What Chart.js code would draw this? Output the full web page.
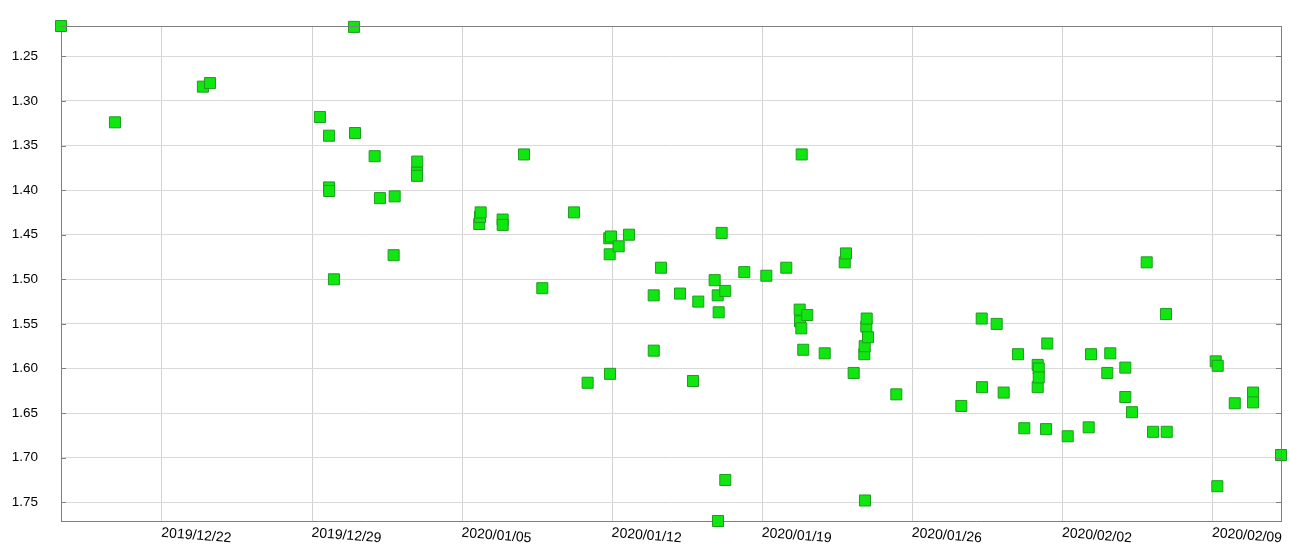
<!DOCTYPE html>
<html>
<head>
<meta charset="utf-8">
<script src="https://cdn.jsdelivr.net/npm/chart.js@4.4.1/dist/chart.umd.min.js"></script>
<style>
  body { margin: 0; background: #fff; }
  #wrap { width: 1293px; height: 552px; }
</style>
</head>
<body>
<div id="wrap"><canvas id="scatterChart" width="1293" height="552"></canvas></div>
<script>
const times = [
  '2019/12/17 07:00', '2019/12/19 19:24', '2019/12/23 21:50', '2019/12/24 05:45',
  '2019/12/29 08:50', '2019/12/29 19:00', '2019/12/29 19:00', '2019/12/29 19:10',
  '2019/12/30 00:30', '2019/12/30 22:55', '2019/12/31 00:05', '2019/12/31 22:05',
  '2020/01/01 04:00', '2020/01/01 19:20', '2020/01/01 20:30', '2020/01/02 21:25',
  '2020/01/02 21:30', '2020/01/02 21:45', '2020/01/05 19:10', '2020/01/05 20:00',
  '2020/01/05 20:45', '2020/01/06 21:20', '2020/01/06 21:25', '2020/01/07 21:15',
  '2020/01/08 17:45', '2020/01/10 05:10', '2020/01/10 20:30', '2020/01/11 20:40',
  '2020/01/11 21:10', '2020/01/11 21:30', '2020/01/11 22:35', '2020/01/12 07:15',
  '2020/01/12 18:45', '2020/01/13 22:25', '2020/01/13 22:30', '2020/01/14 06:35',
  '2020/01/15 03:50', '2020/01/15 18:25', '2020/01/16 00:20', '2020/01/16 18:40',
  '2020/01/16 22:05', '2020/01/16 22:25', '2020/01/16 23:10', '2020/01/17 02:30',
  '2020/01/17 06:30', '2020/01/17 06:35', '2020/01/18 03:50', '2020/01/19 04:30',
  '2020/01/20 02:50', '2020/01/20 17:50', '2020/01/20 18:10', '2020/01/20 19:40',
  '2020/01/20 20:05', '2020/01/20 21:50', '2020/01/21 02:20', '2020/01/21 21:50',
  '2020/01/22 20:15', '2020/01/22 21:40', '2020/01/23 06:15', '2020/01/23 18:10',
  '2020/01/23 18:35', '2020/01/23 18:55', '2020/01/23 20:25', '2020/01/23 20:50',
  '2020/01/23 22:20', '2020/01/25 06:00', '2020/01/28 06:45', '2020/01/29 05:35',
  '2020/01/29 05:55', '2020/01/29 22:20', '2020/01/30 06:10', '2020/01/30 22:10',
  '2020/01/31 05:15', '2020/01/31 20:15', '2020/01/31 20:15', '2020/01/31 21:25',
  '2020/01/31 21:25', '2020/02/01 05:35', '2020/02/01 07:00', '2020/02/02 05:50',
  '2020/02/03 05:20', '2020/02/03 07:55', '2020/02/04 02:10', '2020/02/04 05:30',
  '2020/02/04 22:20', '2020/02/04 22:20', '2020/02/05 05:50', '2020/02/05 22:15',
  '2020/02/06 05:20', '2020/02/06 19:50', '2020/02/06 20:40', '2020/02/09 03:30',
  '2020/02/09 05:20', '2020/02/09 05:45', '2020/02/10 00:50', '2020/02/10 21:15',
  '2020/02/10 21:15', '2020/02/12 04:35'
];

const values = [
  1.216, 1.324, 1.284, 1.280,
  1.318, 1.339, 1.397, 1.401,
  1.500, 1.217, 1.336, 1.362,
  1.409, 1.473, 1.407, 1.380,
  1.384, 1.368, 1.438, 1.430,
  1.425, 1.433, 1.439, 1.360,
  1.510, 1.425, 1.616, 1.454,
  1.472, 1.606, 1.452, 1.463,
  1.450, 1.518, 1.580, 1.487,
  1.516, 1.614, 1.525, 1.501,
  1.518, 1.771, 1.537, 1.448,
  1.513, 1.725, 1.492, 1.496,
  1.487, 1.534, 1.547, 1.555,
  1.360, 1.579, 1.540, 1.583,
  1.481, 1.471, 1.605, 1.584,
  1.575, 1.748, 1.553, 1.544,
  1.565, 1.629, 1.642, 1.544,
  1.621, 1.550, 1.627, 1.584,
  1.667, 1.596, 1.621, 1.600,
  1.610, 1.668, 1.572, 1.676,
  1.666, 1.584, 1.605, 1.583,
  1.599, 1.632, 1.649, 1.481,
  1.671, 1.539, 1.671, 1.592,
  1.732, 1.597, 1.639, 1.627,
  1.638, 1.697
];

const xTickLabels = ['2019/12/22', '2019/12/29', '2020/01/05', '2020/01/12',
                     '2020/01/19', '2020/01/26', '2020/02/02', '2020/02/09'];
const yTicks = [1.25, 1.30, 1.35, 1.40, 1.45, 1.50, 1.55, 1.60, 1.65, 1.70, 1.75];

// date string -> ms (UTC so the sandbox timezone does not matter)
function toMs(s) {
  const [d, t = '00:00'] = s.split(' ');
  const [Y, M, D] = d.split('/').map(Number);
  const [h, m] = t.split(':').map(Number);
  return Date.UTC(Y, M - 1, D, h, m);
}

const xs = times.map(toMs);
const points = xs.map((x, i) => ({ x: x, y: values[i] }));

const FONT = "'Liberation Sans', Arial, sans-serif";
const AXIS = '#7f7f7f';

// frame on top/right, small inner ticks, slanted date labels
const framePlugin = {
  id: 'frame',
  afterDraw(chart) {
    const { ctx, chartArea: a, scales } = chart;
    ctx.save();
    ctx.strokeStyle = AXIS;
    ctx.lineWidth = 1;
    ctx.beginPath();
    ctx.moveTo(a.left, Math.round(a.top) + 0.5);
    ctx.lineTo(a.right, Math.round(a.top) + 0.5);
    ctx.moveTo(Math.round(a.right) + 0.5, a.top);
    ctx.lineTo(Math.round(a.right) + 0.5, a.bottom);
    scales.y.ticks.forEach(t => {
      const py = Math.round(scales.y.getPixelForValue(t.value)) + 0.5;
      ctx.moveTo(a.left, py);
      ctx.lineTo(a.left + 5, py);
      ctx.moveTo(a.right, py);
      ctx.lineTo(a.right - 5, py);
    });
    ctx.stroke();

    ctx.fillStyle = '#000';
    ctx.font = '14px ' + FONT;
    ctx.textAlign = 'left';
    ctx.textBaseline = 'top';
    scales.x.ticks.forEach((t, i) => {
      const px = scales.x.getPixelForValue(t.value);
      ctx.save();
      ctx.translate(px, a.bottom + 5);
      ctx.rotate(4.5 * Math.PI / 180);
      ctx.fillText(xTickLabels[i], 0, 0);
      ctx.restore();
    });
    ctx.restore();
  }
};

const ctx = document.getElementById('scatterChart').getContext('2d');

const scatterChart = new Chart(ctx, {
  type: 'scatter',
  data: {
    datasets: [{
      data: points,
      pointStyle: 'rect',
      pointRadius: 7.8,
      pointHoverRadius: 7.8,
      backgroundColor: '#10e610',
      borderColor: '#1f9c1f',
      borderWidth: 1,
      clip: false
    }]
  },
  options: {
    responsive: false,
    animation: false,
    layout: { autoPadding: false, padding: { top: 26, right: 12, left: 0, bottom: 0 } },
    plugins: {
      legend: { display: false },
      tooltip: { enabled: false }
    },
    scales: {
      x: {
        type: 'linear',
        min: Math.min(...xs),
        max: Math.max(...xs),
        afterBuildTicks: s => { s.ticks = xTickLabels.map(l => ({ value: toMs(l) })); },
        afterFit: s => { s.height = 31; },
        ticks: { display: false },
        grid: { color: '#d2d2d2', drawTicks: false },
        border: { color: AXIS }
      },
      y: {
        reverse: true,
        min: Math.min(...values),
        max: Math.max(...values),
        afterBuildTicks: s => { s.ticks = yTicks.map(v => ({ value: v })); },
        // label padding would otherwise also push the plot top down
        afterFit: s => { s.width = 61; s.paddingTop = 0; s.paddingBottom = 0; },
        ticks: {
          color: '#000',
          padding: 23,
          font: { size: 13.5, family: FONT },
          callback: v => v.toFixed(2)
        },
        grid: { color: '#d9d9d9', drawTicks: false },
        border: { color: AXIS }
      }
    }
  },
  plugins: [framePlugin]
});
</script>
</body>
</html>
